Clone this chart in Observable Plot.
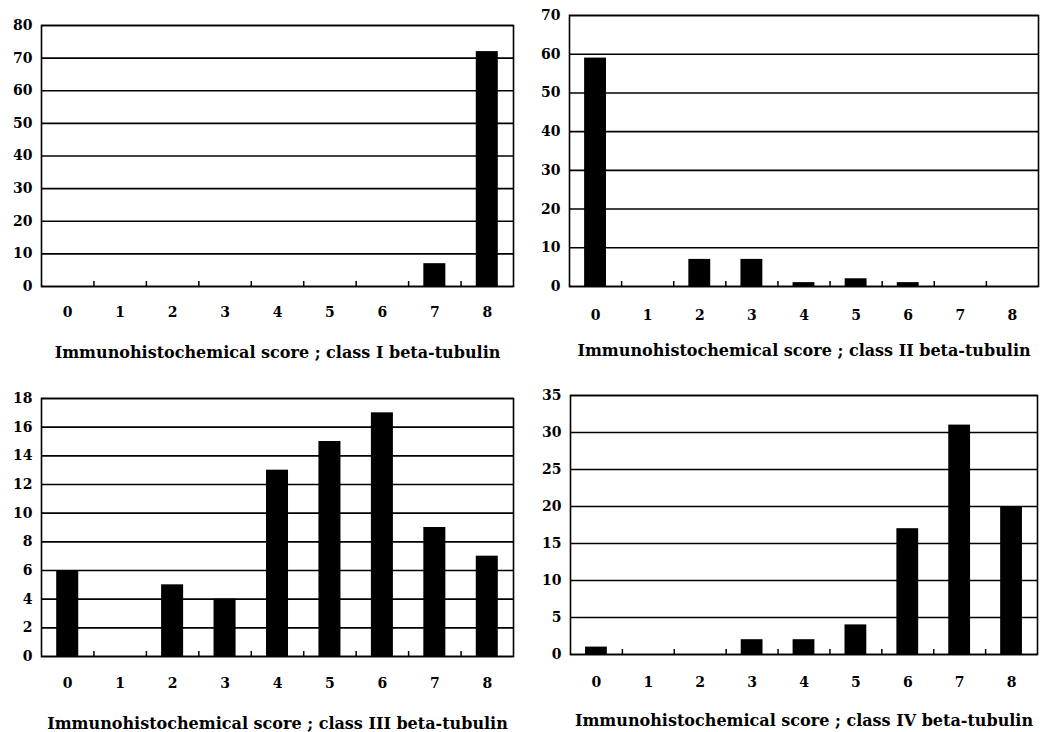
<!DOCTYPE html>
<html>
<head>
<meta charset="utf-8">
<script src="https://cdn.jsdelivr.net/npm/d3@7"></script>
<script src="https://cdn.jsdelivr.net/npm/@observablehq/plot@0.6"></script>
<style>
  html, body { margin: 0; padding: 0; background: #fff; }
  #root { position: relative; width: 1040px; height: 732px; background: #fff; overflow: hidden; }
  .panel { position: absolute; }
</style>
</head>
<body>
<div id="root"></div>
<script>
// Data
const scores = [0, 1, 2, 3, 4, 5, 6, 7, 8];
const class1 = [0, 0, 0, 0, 0, 0, 0, 7, 72];
const class2 = [59, 0, 7, 7, 1, 2, 1, 0, 0];
const class3 = [6, 0, 5, 4, 13, 15, 17, 9, 7];
const class4 = [1, 0, 0, 2, 2, 4, 17, 31, 20];
const yMaxes = [80, 70, 18, 35];
const ySteps = [10, 10, 2, 5];
const titles = [
  "Immunohistochemical score ; class I beta-tubulin",
  "Immunohistochemical score ; class II beta-tubulin",
  "Immunohistochemical score ; class III beta-tubulin",
  "Immunohistochemical score ; class IV beta-tubulin"
];
const series = [class1, class2, class3, class4];

// Layout (pixels)
const layouts = [
  {left: 0,   top: 0,   width: 520, height: 370, ml: 41, mr: 7, mt: 25, mb: 84, xPad: 21, titleDy: 66},
  {left: 520, top: 0,   width: 520, height: 370, ml: 49, mr: 2, mt: 15, mb: 84, xPad: 24, titleDy: 64},
  {left: 0,   top: 370, width: 520, height: 362, ml: 41, mr: 7, mt: 28, mb: 76, xPad: 22, titleDy: 67},
  {left: 520, top: 370, width: 520, height: 362, ml: 50, mr: 3, mt: 25, mb: 78, xPad: 23, titleDy: 66}
];

const root = document.getElementById("root");
const halfBar = 0.21;
const boundaries = scores.slice(0, -1).map(s => s + 0.5);

series.forEach((vals, i) => {
  const L = layouts[i];
  const data = scores.map((s, j) => ({score: s, value: vals[j]}));
  const yTicks = d3.range(0, yMaxes[i] + ySteps[i] / 2, ySteps[i]);
  const plotH = L.height - L.mt - L.mb;
  const chart = Plot.plot({
    width: L.width,
    height: L.height,
    marginLeft: L.ml,
    marginRight: L.mr,
    marginTop: L.mt,
    marginBottom: L.mb,
    style: {fontFamily: "DejaVu Serif", fontSize: "14px", fontWeight: "bold", color: "black", background: "white"},
    x: {domain: [-0.5, 8.5], axis: null},
    y: {domain: [0, yMaxes[i]], axis: null},
    marks: [
      Plot.gridY(yTicks, {stroke: "black", strokeOpacity: 1, strokeWidth: 1.6}),
      Plot.rectY(data, {x1: d => d.score - halfBar, x2: d => d.score + halfBar, y1: 0, y2: "value", fill: "black"}),
      Plot.ruleX(boundaries, {x: d => d, insetTop: plotH - 5, stroke: "black", strokeWidth: 1.5}),
      Plot.frame({stroke: "black", strokeWidth: 1.6}),
      Plot.axisY(yTicks, {tickSize: 0, tickPadding: 9, label: null, fill: "black"}),
      Plot.axisX(scores, {tickSize: 0, tickPadding: L.xPad, label: null, fill: "black"}),
      Plot.text([titles[i]], {frameAnchor: "bottom", dy: L.titleDy, lineAnchor: "middle", text: d => d, fontSize: 16, fontWeight: "bold", fill: "black"})
    ]
  });
  const wrap = document.createElement("div");
  wrap.className = "panel";
  wrap.style.left = L.left + "px";
  wrap.style.top = L.top + "px";
  wrap.appendChild(chart);
  root.appendChild(wrap);
});
</script>
</body>
</html>
